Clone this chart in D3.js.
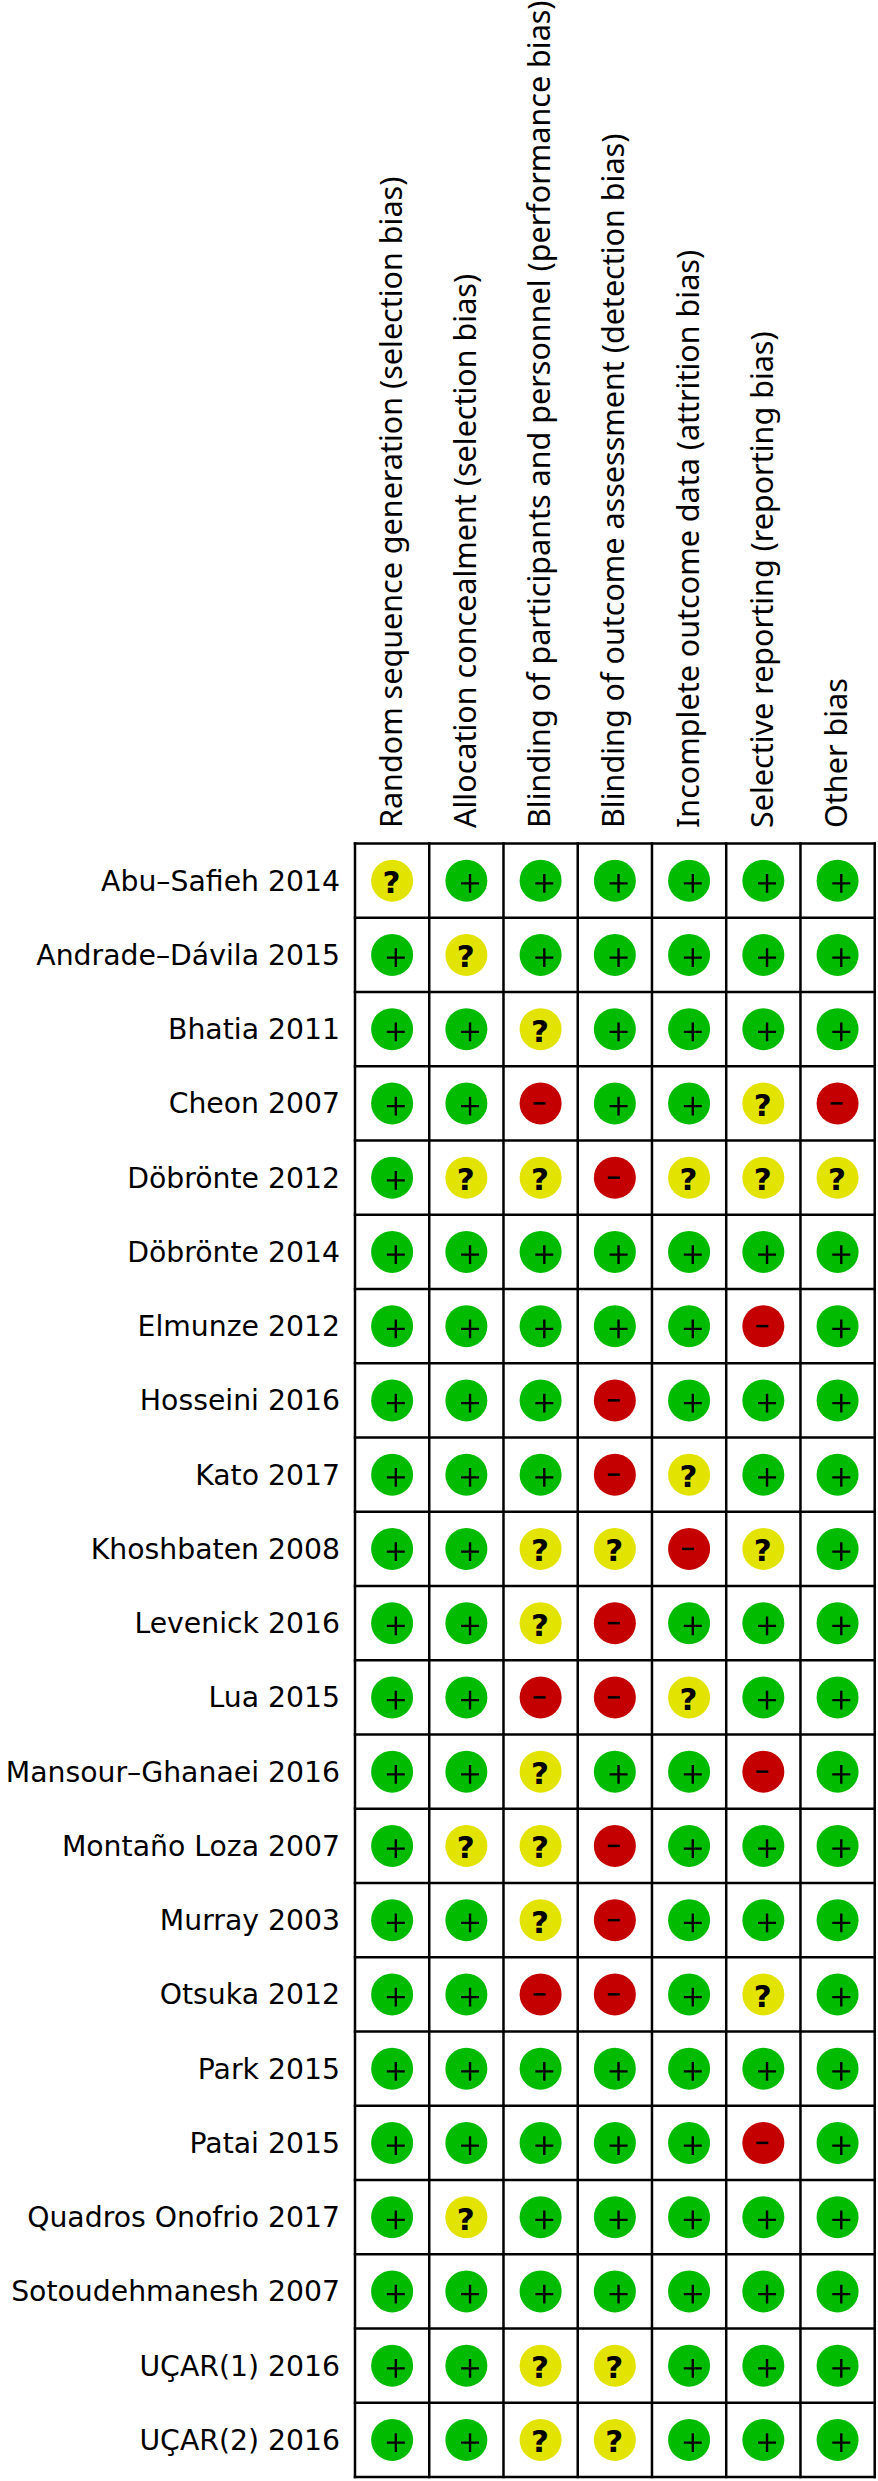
<!DOCTYPE html>
<html><head><meta charset="utf-8">
<style>html,body{margin:0;padding:0;background:#fff}svg{display:block}text{font-family:"DejaVu Sans";fill:#000}</style>
<script src="https://cdn.jsdelivr.net/npm/d3@7"></script></head><body>
<svg id="c" width="878" height="2481"></svg>
<script>
const domains = ["Random sequence generation (selection bias)","Allocation concealment (selection bias)","Blinding of participants and personnel (performance bias)","Blinding of outcome assessment (detection bias)","Incomplete outcome data (attrition bias)","Selective reporting (reporting bias)","Other bias"];
const studies = ["Abu–Safieh 2014","Andrade–Dávila 2015","Bhatia 2011","Cheon 2007","Döbrönte 2012","Döbrönte 2014","Elmunze 2012","Hosseini 2016","Kato 2017","Khoshbaten 2008","Levenick 2016","Lua 2015","Mansour–Ghanaei 2016","Montaño Loza 2007","Murray 2003","Otsuka 2012","Park 2015","Patai 2015","Quadros Onofrio 2017","Sotoudehmanesh 2007","UÇAR(1) 2016","UÇAR(2) 2016"];
const ratings = ["?++++++","+?+++++","++?++++","++-++?-","+??-???","+++++++","+++++-+","+++-+++","+++-?++","++??-?+","++?-+++","++--?++","++?++-+","+??-+++","++?-+++","++--+?+","+++++++","+++++-+","+?+++++","+++++++","++??+++","++??+++"];
const colors = {"+":"#00bb00","?":"#e3e300","-":"#c40000"};

const x = d3.scaleBand().domain(domains).range([355, 874.7]);
const y = d3.scaleBand().domain(studies).range([843.5, 2477]);
const svg = d3.select("#c");
const r = 21;

svg.append("g").selectAll("text").data(studies).join("text")
  .attr("x", 340).attr("y", d => y(d) + y.bandwidth()/2 + 10)
  .attr("text-anchor","end").attr("font-size",28.3).text(d => d);

svg.append("g").selectAll("text").data(domains).join("text")
  .attr("transform", d => `translate(${x(d)+x.bandwidth()/2+9.6},828) rotate(-90)`)
  .style("font-family","'Noto Sans'")
  .attr("font-size",30.5).text(d => d);

const grid = svg.append("g").attr("stroke","#000").attr("stroke-width",2.5);
d3.range(domains.length+1).forEach(i => {
  const X = x.range()[0] + i*x.step();
  grid.append("line").attr("x1",X).attr("x2",X).attr("y1",y.range()[0]-1.25).attr("y2",y.range()[1]+1.25);
});
d3.range(studies.length+1).forEach(i => {
  const Y = y.range()[0] + i*y.step();
  grid.append("line").attr("x1",x.range()[0]-1.25).attr("x2",x.range()[1]+1.25).attr("y1",Y).attr("y2",Y);
});

const cells = studies.flatMap((s,i) => domains.map((d,j) => ({s,d,v:ratings[i][j]})));
const g = svg.append("g").selectAll("g").data(cells).join("g")
  .attr("transform", c => `translate(${x(c.d)+x.bandwidth()/2},${y(c.s)+y.bandwidth()/2})`);
g.append("circle").attr("r",r).attr("fill",c => colors[c.v]);
g.filter(c => c.v==="+").append("path").attr("d","M-5.3,2.7H12.7M3.7,-6.6V12").attr("stroke","#000").attr("stroke-width",2.4).attr("fill","none");
g.filter(c => c.v==="-").append("path").attr("d","M-7,0H5").attr("stroke","#000").attr("stroke-width",2.5).attr("fill","none");
g.filter(c => c.v==="?").append("text").attr("text-anchor","middle").attr("x",-0.7).attr("y",12.5).attr("font-size",31).attr("font-weight","bold").text("?");
</script></body></html>
